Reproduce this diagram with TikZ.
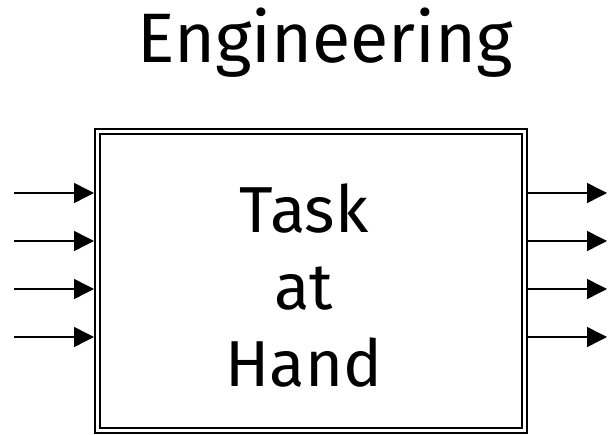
\documentclass[tikz,border=0pt]{standalone}
\usepackage{fontspec}
\setmainfont{Fira Sans}
\usetikzlibrary{arrows.meta}
\begin{document}
\begin{tikzpicture}
[x=1pt,y=1pt,line width=1.5pt,>={Triangle[length=20pt,width=20pt]}]
\useasboundingbox (0,0) rectangle (608,434);
\path (325,371) node (title) [anchor=base,font=\fontsize{70}{84}\selectfont] {Engineering}
(311,153) node (task) [draw,double,line width=2pt,double distance=3pt,inner sep=0pt,outer sep=3.5pt,
  minimum width=427pt,minimum height=298pt] {}
(304,148) node (label) [align=center,font=\fontsize{65}{77}\selectfont] {Task\\at\\Hand};
\path (14,241) coordinate (in1)
(14,193) coordinate (in2)
(14,145) coordinate (in3)
(14,97) coordinate (in4)
(607,241) coordinate (out1)
(607,193) coordinate (out2)
(607,145) coordinate (out3)
(607,97) coordinate (out4);
\draw [->] (in1) -- (in1 -| task.west);
\draw [->] (in2) -- (in2 -| task.west);
\draw [->] (in3) -- (in3 -| task.west);
\draw [->] (in4) -- (in4 -| task.west);
\draw [->] (out1 -| task.east) -- (out1);
\draw [->] (out2 -| task.east) -- (out2);
\draw [->] (out3 -| task.east) -- (out3);
\draw [->] (out4 -| task.east) -- (out4);
\end{tikzpicture}
\end{document}
